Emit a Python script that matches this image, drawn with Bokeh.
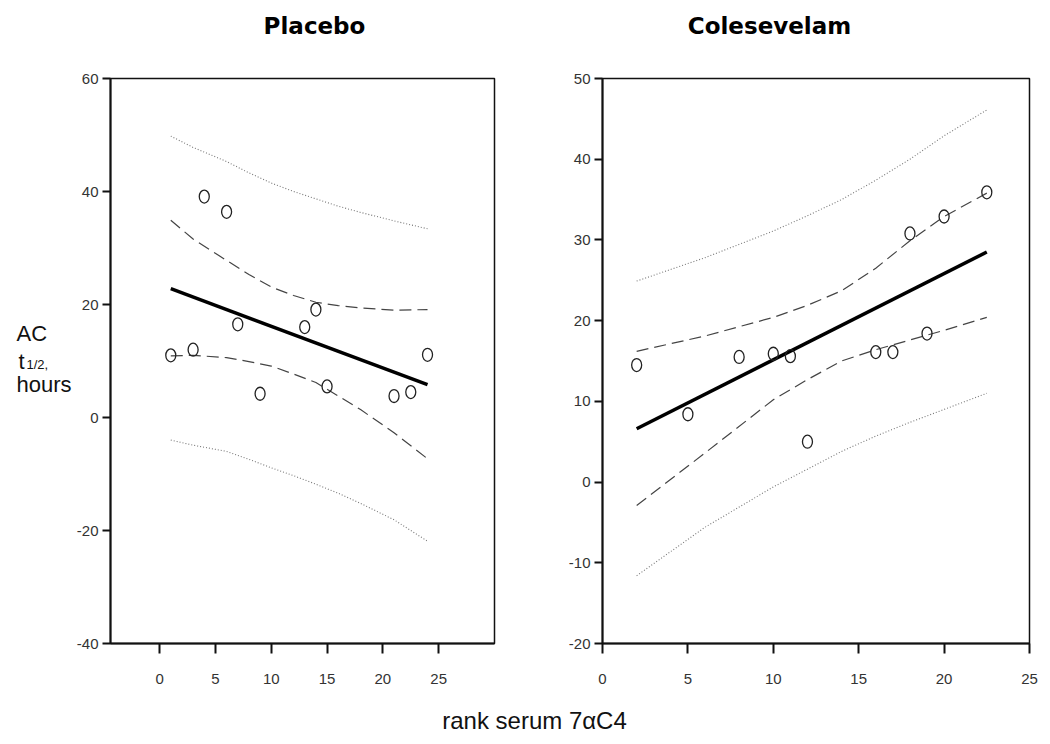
from bokeh.plotting import figure
from bokeh.layouts import row, column
from bokeh.models import Label, Range1d, FixedTicker, PrintfTickFormatter
from bokeh.embed import file_html
from bokeh.resources import INLINE

# ---------------- data ----------------
# Placebo
pl_x = [1, 3, 4, 6, 7, 9, 13, 14, 15, 21, 22.5, 24]
pl_y = [11.0, 12.0, 39.1, 36.4, 16.5, 4.2, 16.0, 19.1, 5.5, 3.8, 4.5, 11.1]
pl_fit_x = [1, 24]
pl_fit_y = [22.8, 5.8]
pl_band_x = [1, 3, 6, 8, 10, 12, 14, 16, 18, 21, 24]
pl_ci_hi = [34.9, 31.6, 27.8, 25.3, 23.1, 21.6, 20.4, 19.8, 19.4, 19.0, 19.1]
pl_ci_lo = [10.9, 11.0, 10.6, 9.9, 9.1, 7.7, 6.2, 3.8, 1.4, -2.7, -7.3]
pl_pi_hi = [49.8, 47.8, 45.3, 43.3, 41.5, 40.0, 38.7, 37.4, 36.3, 34.8, 33.4]
pl_pi_lo = [-4.0, -4.9, -6.0, -7.4, -8.9, -10.3, -11.8, -13.4, -15.2, -18.1, -21.9]

# Colesevelam
cs_x = [2, 5, 8, 10, 11, 12, 16, 17, 18, 19, 20, 22.5]
cs_y = [14.5, 8.4, 15.5, 15.9, 15.6, 5.0, 16.1, 16.1, 30.8, 18.4, 32.9, 35.9]
cs_fit_x = [2, 22.5]
cs_fit_y = [6.6, 28.5]
cs_band_x = [2, 6, 10, 12, 14, 16, 18, 20, 22.5]
cs_ci_hi = [16.2, 18.1, 20.4, 21.9, 23.7, 26.5, 29.9, 32.9, 35.8]
cs_ci_lo = [-2.9, 3.6, 10.2, 12.7, 15.0, 16.4, 17.6, 18.8, 20.4]
cs_pi_hi = [24.9, 27.8, 31.1, 33.0, 35.0, 37.4, 40.0, 42.9, 46.1]
cs_pi_lo = [-11.6, -5.6, -0.6, 1.6, 3.8, 5.7, 7.4, 9.0, 11.0]

pl_xticks = [0, 5, 10, 15, 20, 25]
pl_yticks = [-40, -20, 0, 20, 40, 60]
cs_xticks = [0, 5, 10, 15, 20, 25]
cs_yticks = [-20, -10, 0, 10, 20, 30, 40, 50]

TICK_FONT = "Liberation Sans"


def blank(width, height):
    f = figure(width=width, height=height, x_range=Range1d(0, width),
               y_range=Range1d(0, height), x_axis_type=None, y_axis_type=None,
               toolbar_location=None, output_backend="svg", min_border=0,
               title=None)
    f.outline_line_color = None
    f.xgrid.grid_line_color = None
    f.ygrid.grid_line_color = None
    f.background_fill_color = "white"
    f.border_fill_color = "white"
    return f


def style(p, xticks, yticks):
    p.xgrid.grid_line_color = None
    p.ygrid.grid_line_color = None
    p.outline_line_color = "#111111"
    p.outline_line_width = 1.5
    p.background_fill_color = "white"
    p.border_fill_color = "white"
    p.xaxis.ticker = FixedTicker(ticks=xticks)
    p.yaxis.ticker = FixedTicker(ticks=yticks)
    p.xaxis.formatter = PrintfTickFormatter(format="%d")
    p.yaxis.formatter = PrintfTickFormatter(format="%d")
    for ax in (p.xaxis[0], p.yaxis[0]):
        ax.axis_line_color = "#111111"
        ax.axis_line_width = 2
        ax.major_tick_line_color = "#111111"
        ax.major_tick_line_width = 2
        ax.major_tick_in = 0
        ax.minor_tick_line_color = None
        ax.major_label_text_font = TICK_FONT
        ax.major_label_text_font_size = "15px"
        ax.major_label_text_color = "#333333"
    p.xaxis.major_tick_out = 10
    p.xaxis.major_label_standoff = 20
    p.yaxis.major_tick_out = 8
    p.yaxis.major_label_standoff = 4


def draw(p, bx, pi_hi, pi_lo, ci_hi, ci_lo, fx, fy, px, py):
    p.line(bx, pi_hi, line_color="#777777", line_width=1.1, line_dash="1 2")
    p.line(bx, pi_lo, line_color="#777777", line_width=1.1, line_dash="1 2")
    p.line(bx, ci_hi, line_color="#444444", line_width=1.2, line_dash="12 6")
    p.line(bx, ci_lo, line_color="#444444", line_width=1.2, line_dash="12 6")
    p.line(fx, fy, line_color="black", line_width=3.5)
    p.ellipse(x=px, y=py, width=10, height=13, width_units="screen",
              height_units="screen", fill_color=None, line_color="#222222",
              line_width=1.3)


# ---------------- titles strip ----------------
TOP_H = 68
p_top = blank(1041, TOP_H)
title_kw = dict(text_align="center", text_baseline="alphabetic",
                text_font="DejaVu Sans", text_font_style="bold",
                text_font_size="23px", text_color="black")
p_top.add_layout(Label(x=314, y=TOP_H - 25, text="Placebo", **title_kw))
p_top.add_layout(Label(x=769, y=TOP_H - 25, text="Colesevelam", **title_kw))

# ---------------- y label strip ----------------
ROW_H = 630
ROW_TOP = TOP_H
YL_W = 72
p_ylab = blank(YL_W, ROW_H)
ylab_kw = dict(text_align="left", text_baseline="alphabetic",
               text_font="Liberation Sans", text_color="#111111")
row_bottom = ROW_TOP + ROW_H
p_ylab.add_layout(Label(x=16, y=row_bottom - 352, text="AC",
                        text_font_size="22px", **ylab_kw))
p_ylab.add_layout(Label(x=18, y=row_bottom - 384, text="t",
                        text_font_size="22px", **ylab_kw))
p_ylab.add_layout(Label(x=26, y=row_bottom - 387, text="1/2,",
                        text_font_size="13px", **ylab_kw))
p_ylab.add_layout(Label(x=16, y=row_bottom - 409, text="hours",
                        text_font_size="22px", **ylab_kw))

# ---------------- left panel ----------------
p1 = figure(frame_width=384, frame_height=565,
            x_range=Range1d(-4.4, 30), y_range=Range1d(-40, 60),
            toolbar_location=None, output_backend="svg",
            min_border_left=110 - YL_W, min_border_right=46,
            min_border_top=10, min_border_bottom=55)
style(p1, pl_xticks, pl_yticks)
draw(p1, pl_band_x, pl_pi_hi, pl_pi_lo, pl_ci_hi, pl_ci_lo,
     pl_fit_x, pl_fit_y, pl_x, pl_y)

# ---------------- right panel ----------------
p2 = figure(frame_width=427, frame_height=565,
            x_range=Range1d(0, 25), y_range=Range1d(-20, 50),
            toolbar_location=None, output_backend="svg",
            min_border_left=62, min_border_right=12,
            min_border_top=10, min_border_bottom=55)
style(p2, cs_xticks, cs_yticks)
draw(p2, cs_band_x, cs_pi_hi, cs_pi_lo, cs_ci_hi, cs_ci_lo,
     cs_fit_x, cs_fit_y, cs_x, cs_y)

# ---------------- shared x label ----------------
BOT_H = 46
p_bot = blank(1041, BOT_H)
p_bot.add_layout(Label(x=534, y=BOT_H - 22, text="rank serum 7\u03b1C4",
                       text_align="center", text_baseline="alphabetic",
                       text_font="Liberation Sans", text_font_size="24px",
                       text_color="#111111"))

layout = column(p_top, row(p_ylab, p1, p2), p_bot)
open("out.html", "w").write(file_html(layout, INLINE))
